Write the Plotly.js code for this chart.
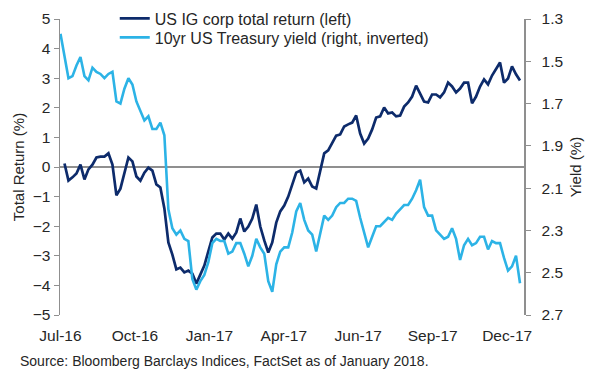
<!DOCTYPE html>
<html>
<head>
<meta charset="utf-8">
<script src="https://cdn.plot.ly/plotly-3.0.1.min.js"></script>
<style>html,body{margin:0;padding:0;background:#fff;}#chart{width:600px;height:377px;}</style>
</head>
<body>
<div id="chart"></div>
<script>
// ---- data (sampled at equal time steps, Jul-2016 .. Dec-2017) ----
const tickLabels = ["Jul-16", "Oct-16", "Jan-17", "Apr-17", "Jun-17", "Sep-17", "Dec-17"];

const igTotalReturn = [
  null, 0.12, -0.46, -0.35, -0.22, 0.08, -0.42, -0.08, 0.08, 0.32,
  0.35, 0.35, 0.46, 0.08, -0.96, -0.73, -0.19, 0.32, 0.19, -0.32,
  -0.46, -0.19, -0.02, -0.12, -0.59, -0.69, -1.40, -2.55, -2.96, -3.46,
  -3.40, -3.56, -3.50, -3.60, -3.94, -3.63, -3.33, -2.85, -2.38, -2.25,
  -2.25, -2.45, -2.25, -2.42, -2.21, -1.74, -2.18, -2.01, -1.74, -1.27,
  -2.01, -2.48, -2.89, -2.55, -1.88, -1.50, -1.30, -1.00, -0.63, -0.19,
  -0.12, -0.52, -0.39, -0.66, -0.73, -0.12, 0.46, 0.56, 0.79, 1.06,
  1.10, 1.37, 1.44, 1.50, 1.74, 1.13, 0.79, 0.96, 1.27, 1.67,
  1.71, 2.01, 1.81, 1.84, 1.71, 1.74, 2.04, 2.18, 2.38, 2.75,
  2.48, 2.21, 2.18, 2.45, 2.45, 2.35, 2.52, 2.85, 2.72, 2.52,
  2.65, 2.85, 2.85, 2.15, 2.38, 2.72, 2.96, 2.79, 3.09, 3.29,
  3.53, 2.85, 2.99, 3.40, 3.13, 2.92
];

const ust10yYield = [
  1.37, 1.48, 1.58, 1.57, 1.52, 1.48, 1.57, 1.59, 1.53, 1.55,
  1.56, 1.58, 1.56, 1.55, 1.69, 1.70, 1.63, 1.58, 1.61, 1.69,
  1.74, 1.78, 1.76, 1.82, 1.82, 1.79, 1.85, 2.20, 2.29, 2.32,
  2.30, 2.34, 2.35, 2.53, 2.58, 2.54, 2.51, 2.45, 2.36, 2.34,
  2.35, 2.35, 2.41, 2.40, 2.36, 2.36, 2.41, 2.47, 2.42, 2.34,
  2.38, 2.41, 2.54, 2.59, 2.46, 2.40, 2.38, 2.38, 2.31, 2.21,
  2.17, 2.25, 2.30, 2.32, 2.40, 2.32, 2.23, 2.25, 2.23, 2.19,
  2.17, 2.17, 2.15, 2.15, 2.16, 2.24, 2.31, 2.38, 2.33, 2.28,
  2.28, 2.26, 2.24, 2.25, 2.22, 2.20, 2.18, 2.18, 2.15, 2.11,
  2.06, 2.19, 2.23, 2.23, 2.30, 2.32, 2.34, 2.33, 2.29, 2.34,
  2.44, 2.37, 2.34, 2.37, 2.36, 2.33, 2.33, 2.39, 2.35, 2.36,
  2.36, 2.43, 2.49, 2.47, 2.42, 2.55
];

const periodIndex = ust10yYield.map((_, i) => i);

// ---- styling / layout ----
const TICK_STEP = 18.63;
const tickVals = tickLabels.map((_, k) => k * TICK_STEP);
const xRange = [-0.12, 116];
const NAVY = "#0d2b6b";
const CYAN = "#2cb3e6";
const AXIS = "#8f8f8f";
const TXT = "#262626";
const FONT = "Liberation Sans, Arial, sans-serif";

const traces = [
  {
    x: periodIndex, y: igTotalReturn, type: "scatter", mode: "lines",
    name: "US IG corp total return (left)", legend: "legend",
    line: {color: NAVY, width: 2.7}, yaxis: "y", xaxis: "x", connectgaps: false
  },
  {
    x: periodIndex, y: ust10yYield, type: "scatter", mode: "lines",
    name: "10yr US Treasury yield (right, inverted)", legend: "legend2",
    line: {color: CYAN, width: 2.6}, yaxis: "y2", xaxis: "x"
  }
];

const legendBase = {
  xanchor: "left", yanchor: "top", bgcolor: "rgba(0,0,0,0)",
  font: {family: FONT, size: 16, color: TXT}, itemwidth: 30
};

const layout = {
  width: 600, height: 377,
  margin: {l: 60, r: 76, t: 19, b: 62, autoexpand: false},
  paper_bgcolor: "#fff", plot_bgcolor: "#fff",
  font: {family: FONT, size: 15, color: TXT},
  showlegend: true,
  legend: Object.assign({}, legendBase, {x: 0.118, y: 1.059}),
  legend2: Object.assign({}, legendBase, {x: 0.118, y: 0.995}),
  xaxis: {
    range: xRange, tickmode: "array", tickvals: tickVals, ticktext: tickLabels,
    showline: false, ticks: "", showgrid: false, zeroline: false,
    ticklabelstandoff: 9, automargin: false,
    tickfont: {family: FONT, size: 15.5, color: TXT}
  },
  xaxis2: {
    overlaying: "x", anchor: "free", position: 0.5, range: xRange,
    tickmode: "array", tickvals: tickVals, ticks: "outside", ticklen: 5,
    tickcolor: AXIS, tickwidth: 1, showticklabels: false, showline: false,
    showgrid: false, zeroline: false
  },
  yaxis: {
    range: [-5, 5], dtick: 1, tick0: 0, showline: true, linecolor: AXIS, linewidth: 1.5,
    ticks: "outside", ticklen: 5, tickcolor: AXIS, showgrid: false,
    zeroline: true, zerolinecolor: AXIS, zerolinewidth: 1.5, automargin: false,
    tickfont: {family: FONT, size: 15.5, color: TXT},
    title: {text: "Total Return (%)", font: {family: FONT, size: 15, color: TXT}, standoff: 4}
  },
  yaxis2: {
    overlaying: "y", side: "right", range: [2.7, 1.3],
    tickmode: "linear", tick0: 1.3, dtick: 0.2, tickformat: ".1f",
    showline: true, linecolor: AXIS, linewidth: 1.5, automargin: false,
    ticks: "outside", ticklen: 5, tickcolor: AXIS, showgrid: false, zeroline: false,
    ticklabelstandoff: 8,
    tickfont: {family: FONT, size: 15.5, color: TXT},
    title: {text: "Yield (%)", font: {family: FONT, size: 15, color: TXT}, standoff: 8}
  },
  annotations: [{
    text: "Source: Bloomberg Barclays Indices, FactSet as of January 2018.",
    xref: "paper", yref: "paper", x: -0.09, y: -0.157,
    xanchor: "left", yanchor: "middle", showarrow: false,
    font: {family: FONT, size: 14, color: TXT}
  }]
};

Plotly.newPlot("chart", traces, layout, {displayModeBar: false, staticPlot: true});
</script>
</body>
</html>
